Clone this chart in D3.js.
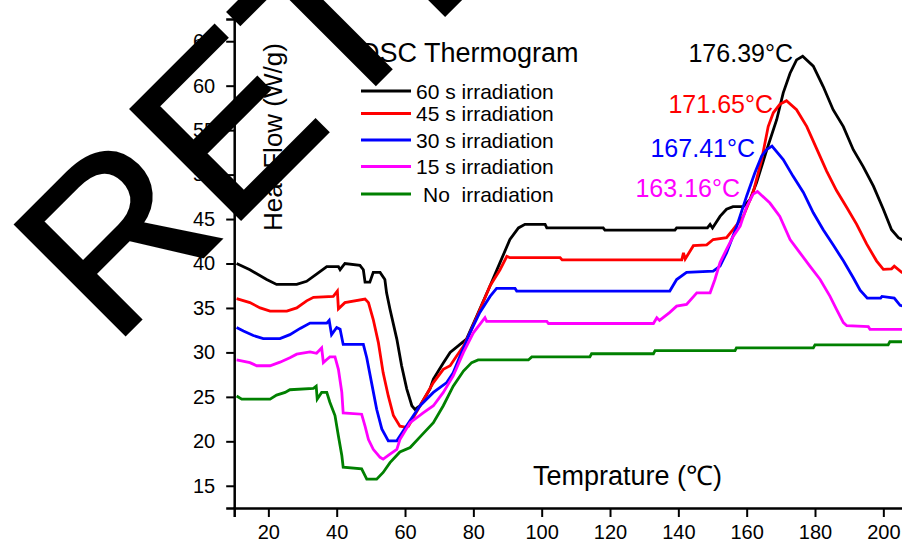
<!DOCTYPE html>
<html>
<head>
<meta charset="utf-8">
<script src="https://cdn.jsdelivr.net/npm/d3@7"></script>
<style>
  html, body { margin: 0; padding: 0; background: #fff; }
  svg { display: block; font-family: "Liberation Sans", Arial, sans-serif; }
</style>
</head>
<body>
<svg id="chart" width="902" height="542"></svg>
<script>
// DSC thermograms: temperature (°C) vs heat flow (W/g)
const irr60 = [[10.7,40.0],[14.6,39.3],[19.5,38.2],[22.4,37.65],[28.3,37.65],[31.2,38.0],[34.1,38.8],[37.1,39.65],[40.5,39.65],[41.0,39.3],[42.4,40.0],[46.8,39.8],[47.8,39.3],[48.3,37.9],[49.7,37.9],[50.7,39.0],[52.7,39.0],[54.1,38.2],[54.6,36.7],[55.6,34.85],[57.6,31.5],[59.0,28.5],[60.5,25.9],[62.0,24.0],[62.9,23.6],[64.4,24.0],[67.3,25.9],[68.3,27.0],[71.2,28.8],[73.2,30.0],[76.1,30.9],[78.0,31.5],[81.0,34.1],[84.9,37.5],[87.8,40.1],[90.7,42.7],[93.2,44.0],[95.1,44.4],[101,44.4],[101.5,44.0],[118,44.0],[118.5,43.75],[139,43.75],[139.5,44.0],[148.5,44.0],[149.3,44.4],[150,44.0],[152.2,45.3],[154.1,46.1],[156,46.4],[159,46.4],[161,47.2],[162.9,49.1],[165.9,52.8],[168.8,56.2],[170.7,59.2],[172.7,61.4],[174.6,62.9],[176.39,63.3],[179.5,62.2],[182.4,59.9],[185.3,57.3],[188.3,55.4],[191.2,52.8],[194.1,50.9],[197.1,48.7],[200,46.1],[202.4,43.8],[204.4,42.9],[206,42.6]];
const irr45 = [[10.7,36.05],[14.6,35.6],[17.6,35.0],[20.5,34.65],[25.4,34.65],[28.3,35.0],[31.2,35.8],[33.2,36.2],[39.0,36.3],[40.2,36.9],[40.5,34.9],[42.4,35.6],[48.3,36.0],[49.3,35.6],[50.7,33.7],[52.2,31.1],[53.6,27.7],[55.1,25.1],[56.6,22.9],[58.5,21.7],[60.0,21.6],[61.0,21.7],[64.4,24.0],[68.3,26.6],[71.2,28.1],[73.2,28.5],[75.1,29.6],[77.1,30.7],[79.0,32.2],[81.9,34.8],[84.9,37.5],[87.8,39.3],[89.8,40.8],[90.7,40.65],[105.4,40.65],[106,40.4],[141,40.4],[141.5,41.2],[142,40.5],[144.4,42.0],[148.3,42.1],[150.2,42.7],[154.1,42.9],[156,43.8],[159,45.3],[161.9,48.0],[164.4,51.7],[166.3,55.4],[167.8,56.95],[169.7,57.9],[171.65,58.3],[174.6,57.3],[177.6,55.4],[180.5,52.9],[183.4,50.4],[186.3,48.2],[189.3,46.3],[192.2,44.4],[195.1,42.2],[198.0,40.3],[200,39.35],[202.4,39.4],[203.2,39.7],[205.4,39.0],[206,39.0]];
const irr30 = [[10.7,32.8],[12.7,32.4],[15.6,31.9],[18.5,31.55],[23.4,31.55],[26.3,32.0],[29.3,32.7],[32.2,33.3],[37.1,33.3],[37.8,33.6],[38.5,32.0],[40.0,32.8],[41.0,32.6],[41.9,30.9],[47.8,30.9],[48.8,29.4],[50.2,26.6],[51.7,23.6],[53.2,21.4],[55.1,20.05],[57.6,20.05],[59.5,21.2],[64.4,24.0],[68.3,25.5],[72.2,26.6],[74.1,27.7],[76.1,29.6],[79.0,32.2],[81.9,34.5],[84.9,36.3],[86.8,37.2],[92.2,37.2],[92.7,36.9],[137.5,36.9],[139.5,38.2],[142.4,39.0],[150.2,39.15],[152.2,39.7],[154.1,41.2],[157.1,44.2],[160,47.6],[162.4,50.2],[164.4,52.1],[165.8,52.8],[167.41,53.2],[170.7,51.7],[173.6,49.8],[176.6,48.0],[179.5,45.7],[182.4,43.8],[185.3,42.1],[188.3,40.3],[191.2,38.4],[193.2,37.0],[195.3,36.1],[199.2,36.1],[199.6,36.3],[203.2,36.1],[204.9,35.3],[206,35.2]];
const irr15 = [[10.7,29.15],[14.6,28.85],[16.6,28.5],[20.5,28.5],[23.4,28.9],[26.3,29.4],[28.3,29.8],[32.2,30.05],[34.1,29.9],[35.6,30.5],[36.1,28.85],[37.1,29.2],[38.0,29.5],[39.5,29.5],[40.5,28.1],[41.5,25.5],[41.9,23.2],[47.3,23.05],[48.3,21.7],[49.3,20.2],[50.7,19.1],[52.7,18.2],[53.6,18.0],[55.6,18.55],[57.6,19.1],[58.5,20.2],[61.5,22.1],[65.3,23.2],[68.3,24.0],[71.2,25.5],[74.1,27.35],[77.1,30.0],[80.0,32.2],[82.4,33.4],[83.4,33.9],[83.9,33.5],[101.5,33.5],[102,33.25],[132.7,33.25],[133.7,33.9],[134.5,33.6],[137.5,34.5],[139.5,35.2],[142.4,35.4],[145.4,36.7],[149.3,36.7],[150.7,38.2],[152.2,40.1],[154.1,41.6],[156,43.0],[158.1,44.2],[160,46.4],[161.9,47.8],[163.16,48.1],[166.8,46.8],[169.7,45.3],[172.7,42.7],[175.6,41.2],[178.5,39.7],[181.5,38.2],[184.4,36.3],[186.3,34.85],[188.3,33.35],[189.3,33.0],[195.6,32.9],[196.1,32.6],[206,32.6]];
const irr0 = [[10.7,25.1],[12.2,24.75],[20.5,24.75],[22.4,25.2],[24.9,25.5],[26.3,25.8],[33.2,25.95],[34.0,26.2],[34.3,24.75],[35.6,25.5],[37.1,25.5],[38.0,24.4],[39.5,22.9],[40.5,20.6],[41.5,18.4],[41.9,17.1],[47.3,16.9],[48.8,15.75],[51.7,15.75],[53.6,16.5],[55.6,17.6],[58.5,18.8],[61.5,19.3],[64.4,20.5],[68.3,22.1],[71.2,24.0],[74.1,26.2],[77.1,27.9],[79.5,28.85],[81.4,29.15],[96.1,29.15],[97.1,29.5],[114.1,29.5],[114.6,29.85],[132.7,29.85],[133.2,30.2],[156.6,30.2],[157,30.5],[179.5,30.5],[180,30.85],[201.4,30.85],[201.9,31.2],[206,31.2]];

const seriesNames = ["60 s irradiation", "45 s irradiation", "30 s irradiation", "15 s irradiation", "No  irradiation"];
const seriesColors = ["#000000", "#ff0000", "#0000ff", "#ff00ff", "#008000"];
const seriesData = [irr60, irr45, irr30, irr15, irr0];

// Melting peak labels
const peakTemps = [176.39, 171.65, 167.41, 163.16];
const peakColors = ["#000000", "#ff0000", "#0000ff", "#ff00ff"];

const xTicks = [20, 40, 60, 80, 100, 120, 140, 160, 180, 200];
const yTicks = [15, 20, 25, 30, 35, 40, 45, 50, 55, 60, 65];

const svg = d3.select("#chart");
svg.append("rect").attr("width", 902).attr("height", 542).attr("fill", "#fff");

const x = d3.scaleLinear().domain([10, 210]).range([234.2, 917.5]);
const y = d3.scaleLinear().domain([12.5, 67.5]).range([508, 19]);

// Curves
const line = d3.line().x(d => x(d[0])).y(d => y(d[1]));
svg.append("g").selectAll("path")
  .data(seriesData)
  .join("path")
  .attr("d", line)
  .attr("fill", "none")
  .attr("stroke", (d, i) => seriesColors[i])
  .attr("stroke-width", 2.8)
  .attr("stroke-linejoin", "miter");

// Axes
const xAxisG = svg.append("g").attr("transform", `translate(0,${y(12.5)})`);
xAxisG.call(d3.axisBottom(x).tickValues(d3.range(10, 210, 10)).tickSize(7).tickFormat(""))
  .call(g => g.select(".domain").remove())
  .call(g => g.selectAll("line").attr("stroke", "#000").attr("stroke-width", 2));
xAxisG.call(d3.axisBottom(x).tickValues(xTicks).tickSize(9).tickPadding(8))
  .call(g => g.select(".domain").attr("stroke", "#000").attr("stroke-width", 2.5))
  .call(g => g.selectAll("line").attr("stroke", "#000").attr("stroke-width", 2))
  .call(g => g.selectAll("text").attr("font-size", 20).attr("fill", "#000").attr("font-family", "Liberation Sans, Arial, sans-serif"));

const yAxisG = svg.append("g").attr("transform", `translate(${x(10)},0)`);
yAxisG.call(d3.axisLeft(y).tickValues(d3.range(12.5, 67.6, 2.5)).tickSize(8).tickFormat(""))
  .call(g => g.select(".domain").remove())
  .call(g => g.selectAll("line").attr("stroke", "#000").attr("stroke-width", 2));
yAxisG.call(d3.axisLeft(y).tickValues(yTicks).tickSize(8).tickPadding(11))
  .call(g => g.select(".domain").attr("stroke", "#000").attr("stroke-width", 2.5))
  .call(g => g.selectAll("line").attr("stroke", "#000").attr("stroke-width", 2))
  .call(g => g.selectAll("text").attr("font-size", 20).attr("fill", "#000").attr("font-family", "Liberation Sans, Arial, sans-serif"));

// Axis titles
svg.append("text")
  .attr("x", 533).attr("y", 485)
  .attr("font-size", 27)
  .text("Temprature (℃)");
svg.append("text")
  .attr("transform", "translate(282,137) rotate(-90)")
  .attr("text-anchor", "middle")
  .attr("font-size", 26)
  .text("Heat Flow (W/g)");

// Title and legend
svg.append("text").attr("x", 360).attr("y", 62).attr("font-size", 27).text("DSC Thermogram");
const legendY = [91, 113.5, 140, 166.5, 194];
const legend = svg.append("g");
seriesNames.forEach((name, i) => {
  legend.append("line")
    .attr("x1", 361).attr("x2", 411)
    .attr("y1", legendY[i]).attr("y2", legendY[i])
    .attr("stroke", seriesColors[i]).attr("stroke-width", 2.8);
  legend.append("text")
    .attr("x", i === 4 ? 423 : 416).attr("y", legendY[i] + 7.5)
    .attr("font-size", 21)
    .style("white-space", "pre")
    .text(name);
});

// Peak temperature annotations
const peakLabelY = [62, 113, 157, 197];
const peakLabelRight = [793, 773, 755, 740];
peakTemps.forEach((t, i) => {
  svg.append("text")
    .attr("x", peakLabelRight[i]).attr("y", peakLabelY[i])
    .attr("text-anchor", "end")
    .attr("font-size", 25)
    .attr("fill", peakColors[i])
    .text(`${t.toFixed(2)}°C`);
});

// Diagonal stamp across the figure
svg.append("text")
  .attr("transform", "translate(112.5,347.5) rotate(-45)")
  .attr("font-size", 226)
  .attr("fill", "#000")
  .attr("stroke", "#000")
  .attr("stroke-width", 3)
  .attr("stroke-linejoin", "miter")
  .text("RETRACTED");
</script>
</body>
</html>
